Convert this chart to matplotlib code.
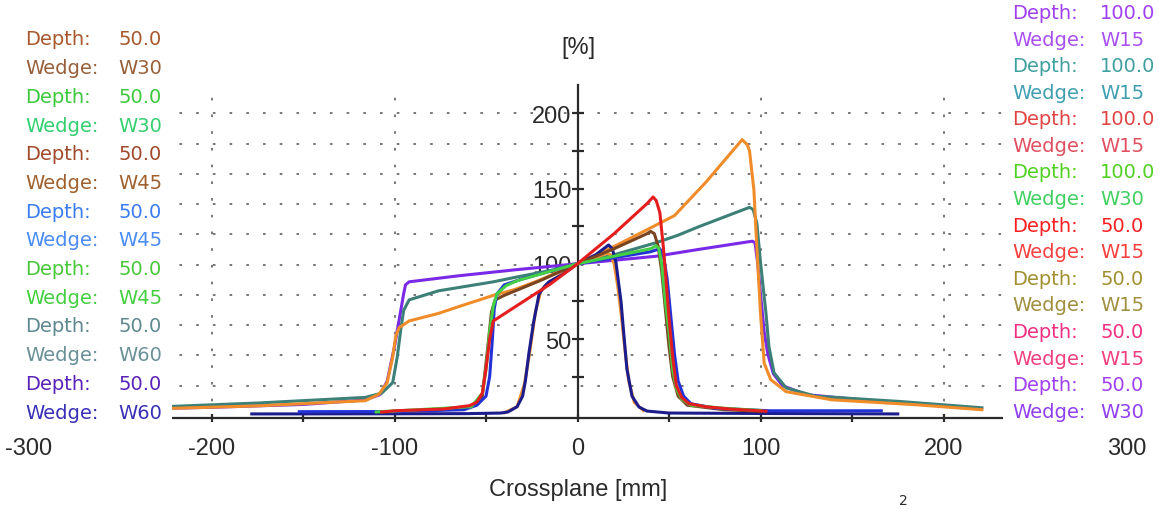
import numpy as np
import matplotlib
matplotlib.use("Agg")
import matplotlib.pyplot as plt
from matplotlib import font_manager
from matplotlib.patches import Rectangle

plt.rcParams["axes.unicode_minus"] = False

# ---- wedge profiles: crossplane position [mm] and relative dose [%] ----
purple_x = [-222, -200, -150, -116, -108, -104, -100, -97, -95, -94, -92, -65, -34, 0, 43, 66, 95.5,
            97, 98.5, 100, 102, 104, 107, 112, 125, 165, 200, 220]
purple_y = [4, 4.6, 6.5, 9.5, 13, 22, 45, 66, 80, 86, 88, 92, 96, 100, 105, 109.5, 115,
            114, 100, 80, 55, 40, 27, 19, 13, 8.5, 5.5, 3.5]

teal_x = [-222, -174, -116, -107, -101, -98.5, -96.6, -95, -92, -76, -46, -34, -15, 0, 20, 43, 55, 66, 94,
          96, 98, 100, 103, 104.6, 107.4, 114, 130, 176, 221]
teal_y = [5.2, 7.5, 11.2, 14, 21, 38, 56, 69, 76, 82, 88, 91, 95.5, 100, 106, 114, 119, 124.5, 137.5,
          136, 127, 101, 67, 45, 27.5, 17.5, 12, 8.5, 4.3]

orange_x = [-222, -174, -116, -108.5, -104, -101, -99.3, -97.5, -92, -76, -65, -46, -34, -21, 0, 20, 41,
            53, 70, 90, 92.8, 94, 96.4, 98, 100, 102, 105.6, 114, 139, 185, 221]
orange_y = [3.9, 5.6, 9, 13.3, 21, 38, 52, 57.5, 62, 67, 71.5, 79, 83, 89, 100, 111.5, 124.5,
            132, 154, 182.5, 179, 175, 149, 111, 67, 34, 23, 15, 9.6, 6.3, 3]

navy_x = [-178, -100, -60, -42, -38, -33, -30, -28.5, -26.5, -24, -21, -18, -15.6, -8, 0, 10, 17, 19,
          21, 23.8, 25.4, 27, 29.8, 33.6, 38, 50, 100, 175]
navy_y = [0.2, 0.3, 0.4, 0.8, 1.5, 5, 12, 22, 41, 61, 80, 85, 88, 93, 100, 106, 112.5, 110,
          101, 74.6, 52, 30, 12, 4.8, 2.1, 0.8, 0.5, 0.2]

orange_small_x = [-40, -33, -29, -26, -23, -20, -15, 0, 10, 16, 18, 20, 22, 24, 26, 28, 31, 36]
orange_small_y = [1, 5, 20, 42, 68, 82, 88, 100, 104, 107, 106, 100, 85, 65, 42, 22, 8, 2.5]

brown_x = [-107, -80, -58, -52, -49, -47, -45, -40, -20, 0, 20, 38, 40, 42, 44, 46, 48, 50, 52, 55,
           60, 80, 100]
brown_y = [1.5, 2.5, 5, 12, 45, 68, 76, 79, 89, 100, 110, 120, 121.5, 120, 112, 95, 70, 45, 25, 12,
           6, 3, 2]

blue_x = [-152, -100, -62, -55, -50, -48, -46.5, -45.5, -44, -40, -30, -15, 0, 20, 40, 45, 47, 49, 51,
          53, 55, 58, 62, 75, 105, 166]
blue_y = [1.7, 1.8, 3, 6, 12, 25, 50, 70, 80, 86, 90, 95, 100, 104, 108, 110, 105, 90, 65,
          40, 22, 12, 7, 4, 2.3, 2.3]

green_x = [-110, -58, -52, -50, -48, -46, -44, -39, -33, -15, 0, 20, 40, 43, 44.5, 46, 48, 50, 52, 54,
           57, 62, 80, 100]
green_y = [1.5, 5, 14, 30, 55, 72, 80, 85.5, 88.7, 95, 100, 105, 110, 112, 110, 100, 75, 55, 30, 17,
           10, 6, 4, 2.5]

red_x = [-107, -100, -73, -59, -55, -52, -50, -48, -46, -30, -15, 0, 20, 38, 41.3, 43, 45, 47, 50, 52,
         54, 57, 61, 70, 83, 103]
red_y = [1.5, 2.3, 3.5, 5.7, 8, 14, 30, 50, 62, 74.6, 86.4, 100, 120, 140, 144.4, 142, 134, 110, 64,
         38, 19, 11, 7, 5, 3.5, 2]

# ---- measurement labels ----
left_depth = ["50.0", "50.0", "50.0", "50.0", "50.0", "50.0", "50.0"]
left_wedge = ["W30", "W30", "W45", "W45", "W45", "W60", "W60"]
left_depth_colors = ["#a8582c", "#3cc83c", "#a04a2a", "#3a7cf0", "#48c838", "#5e8890", "#5a22b8"]
left_wedge_colors = ["#98603a", "#34d070", "#a0602e", "#4a8cf2", "#44d040", "#6a9098", "#3a30b8"]

right_depth = ["100.0", "100.0", "100.0", "100.0", "50.0", "50.0", "50.0", "50.0"]
right_wedge = ["W15", "W15", "W15", "W30", "W15", "W15", "W15", "W30"]
right_depth_colors = ["#a040f0", "#40a0a0", "#e04444", "#50d020", "#f82020", "#a09030", "#f03080", "#a040f0"]
right_wedge_colors = ["#a850f0", "#40a0b0", "#e05060", "#40d060", "#f84040", "#a09040", "#f04080", "#9040f0"]

x_ticks = [-300, -200, -100, 0, 100, 200, 300]
y_ticks = [50, 100, 150, 200]

# ---- fonts ----
available = {f.name for f in font_manager.fontManager.ttflist}
if "Liberation Sans Narrow" in available:
    axis_font, axis_size = "Liberation Sans Narrow", 19
else:
    axis_font, axis_size = "Liberation Sans", 17

W, H = 1159, 510
fig = plt.figure(figsize=(W / 100, H / 100), dpi=100)
fig.patch.set_facecolor("white")

x0_px, x1_px = 28.5, 1126.5
y_bot_px, y_top_px = 419.0, 85.7
ax = fig.add_axes([x0_px / W, (H - y_bot_px) / H, (x1_px - x0_px) / W, (y_bot_px - y_top_px) / H])
ax.set_xlim(-300, 300)
ax.set_ylim(-2.5, 219)
ax.set_facecolor("white")

# dotted background grid
dot = (0, (1.3, 7))
grid_y = np.linspace(200, 19, 10)
ax.hlines(grid_y, -300, 300, colors="#7a7a7a", linestyles=[dot], linewidth=1.45, zorder=1)
ax.vlines([-200, -100, 100, 200], -2.5, 219, colors="#7a7a7a", linestyles=[dot], linewidth=1.45, zorder=1)

# spines crossing at the origin column
for s in ["top", "right"]:
    ax.spines[s].set_visible(False)
ax.spines["left"].set_position(("data", 0))
ax.spines["left"].set_color("#2a2a2a")
ax.spines["bottom"].set_color("#2a2a2a")
ax.spines["left"].set_linewidth(1.6)
ax.spines["bottom"].set_linewidth(1.6)

ax.set_xticks(x_ticks)
ax.set_xticklabels([str(v) for v in x_ticks])
ax.set_xticks(np.arange(-250, 300, 100), minor=True)
ax.set_yticks(y_ticks)
ax.set_yticklabels([str(v) for v in y_ticks])
ax.set_yticks([25, 75, 125, 175], minor=True)
ax.tick_params(axis="x", which="both", direction="inout", length=6, width=1.6, color="#2a2a2a",
               pad=11, labelsize=axis_size, labelcolor="#2a2a2a")
ax.tick_params(axis="y", which="both", direction="inout", length=9, width=1.6, color="#2a2a2a",
               pad=0, labelsize=axis_size, labelcolor="#2a2a2a")
for lab in ax.get_xticklabels() + ax.get_yticklabels():
    lab.set_family(axis_font)

lw = 2.2
ax.plot(purple_x, purple_y, color="#7a2ae6", lw=lw, zorder=3)
ax.plot(teal_x, teal_y, color="#3c8078", lw=lw, zorder=3)
ax.plot(orange_x, orange_y, color="#f08c2a", lw=lw, zorder=3)
ax.plot(orange_small_x, orange_small_y, color="#f09030", lw=lw, zorder=3.5)
ax.plot(navy_x, navy_y, color="#1c1c8c", lw=lw, zorder=3.6)
ax.plot(brown_x, brown_y, color="#7a4420", lw=lw, zorder=4)
ax.plot(blue_x, blue_y, color="#2232d6", lw=lw, zorder=4)
ax.plot(green_x, green_y, color="#44d044", lw=lw, zorder=4)
ax.plot(red_x, red_y, color="#e41e1e", lw=lw, zorder=4)

# white label panels on both sides
def px_rect(x, y, w, h):
    return Rectangle((x / W, 1 - (y + h) / H), w / W, h / H, transform=fig.transFigure,
                     facecolor="white", edgecolor="none", zorder=5)

fig.patches.append(px_rect(0, 0, 172, 430))
fig.patches.append(px_rect(1003, 0, 156, 430))

legend_size = 14

def fig_text(xp, yp, s, color, **kw):
    fig.text(xp / W, 1 - yp / H, s, color=color, fontsize=legend_size, family="DejaVu Sans",
             ha="left", va="center", zorder=6, **kw)

row = 0
for d, w, cd, cw in zip(left_depth, left_wedge, left_depth_colors, left_wedge_colors):
    y = 40 + 28.7 * row
    fig_text(25, y, "Depth:", cd)
    fig_text(118, y, d, cd)
    fig_text(25, y + 28.7, "Wedge:", cw)
    fig_text(118, y + 28.7, w, cw)
    row += 2

row = 0
for d, w, cd, cw in zip(right_depth, right_wedge, right_depth_colors, right_wedge_colors):
    y = 13.5 + 26.58 * row
    fig_text(1012, y, "Depth:", cd)
    fig_text(1100, y, d, cd)
    fig_text(1012, y + 26.58, "Wedge:", cw)
    fig_text(1100, y + 26.58, w, cw)
    row += 2

fig.text(578 / W, 1 - 48 / H, "[%]", ha="center", va="center", fontsize=axis_size,
         family=axis_font, color="#2a2a2a")
fig.text(578 / W, 1 - 490 / H, "Crossplane [mm]", ha="center", va="center", fontsize=axis_size,
         family=axis_font, color="#2a2a2a")
fig.text(903 / W, 1 - 501 / H, "2", ha="center", va="center", fontsize=10, color="#2a2a2a")

fig.savefig("out.png", dpi=100)
